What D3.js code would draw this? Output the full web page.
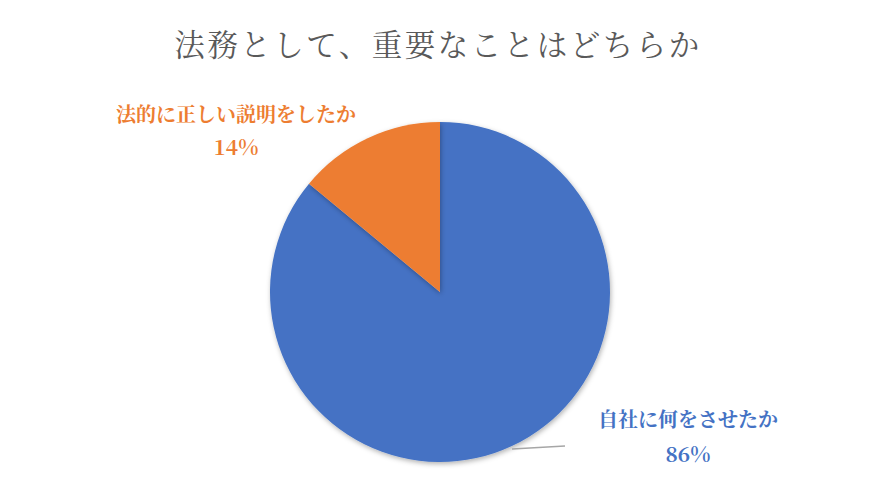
<!DOCTYPE html>
<html>
<head>
<meta charset="utf-8">
<script src="https://cdn.jsdelivr.net/npm/d3@7"></script>
<style>
  body { margin: 0; background: #fff; }
  .chart text { font-family: "Noto Serif CJK JP", "Noto Sans CJK JP", serif; }
</style>
</head>
<body>
<div class="chart"></div>
<script>
const categories = ["自社に何をさせたか", "法的に正しい説明をしたか"];
const values = [86, 14];
const colors = ["#4472c4", "#ed7d31"];
const pctLabels = ["86%", "14%"];

const width = 876, height = 503;
const cx = 440, cy = 292, r = 170;

const svg = d3.select(".chart").append("svg")
  .attr("width", width)
  .attr("height", height);

const defs = svg.append("defs");
const f = defs.append("filter").attr("id", "sh").attr("x", "-20%").attr("y", "-20%").attr("width", "140%").attr("height", "140%");
f.append("feDropShadow").attr("dx", 1).attr("dy", 2).attr("stdDeviation", 2.5).attr("flood-color", "#000").attr("flood-opacity", 0.3);

svg.append("text")
  .attr("x", width / 2)
  .attr("y", 56)
  .attr("text-anchor", "middle")
  .attr("font-size", 30.5)
  .attr("fill", "#595959")
  .attr("letter-spacing", 2.5)
  .text("法務として、重要なことはどちらか");

const pie = d3.pie().sort(null).value(d => d)(values);
const arc = d3.arc().innerRadius(0).outerRadius(r);

const g = svg.append("g").attr("transform", `translate(${cx},${cy})`);
g.selectAll("path")
  .data(pie)
  .enter()
  .append("path")
  .attr("d", arc)
  .attr("fill", (d, i) => colors[i])
  .attr("filter", "url(#sh)");

// leader line for the big slice
g.append("polyline")
  .attr("points", [[72, 157], [125, 154]].map(p => p.join(",")).join(" "))
  .attr("fill", "none")
  .attr("stroke", "#a6a6a6")
  .attr("stroke-width", 1.5);

const labelPos = [[688, 420, 455], [236, 115, 148]];
categories.forEach((c, i) => {
  const [x, y1, y2] = labelPos[i];
  svg.append("text")
    .attr("x", x).attr("y", y1 + 7)
    .attr("text-anchor", "middle")
    .attr("font-size", 20)
    .attr("font-weight", "bold")
    .attr("fill", colors[i])
    .text(c);
  svg.append("text")
    .attr("x", x).attr("y", y2 + 7)
    .attr("text-anchor", "middle")
    .attr("font-size", 21)
    .attr("font-weight", "bold")
    .attr("fill", colors[i])
    .text(pctLabels[i]);
});
</script>
</body>
</html>
